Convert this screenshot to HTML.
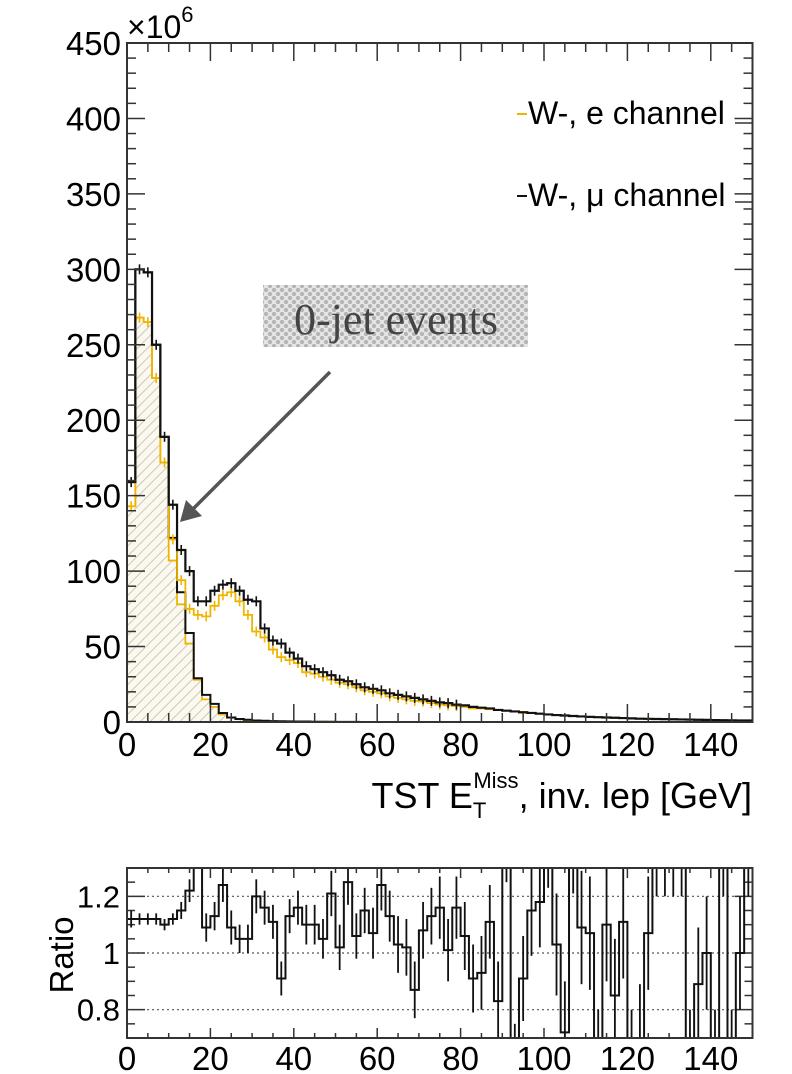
<!DOCTYPE html>
<html><head><meta charset="utf-8">
<style>
html,body{margin:0;padding:0;background:#fff;}
svg{display:block;font-family:"Liberation Sans",Arial,sans-serif;}
</style></head>
<body>
<svg id="c" width="792" height="1074" viewBox="0 0 792 1074">
<defs>
<pattern id="hatch" patternUnits="userSpaceOnUse" width="7" height="7" patternTransform="rotate(45)">
<rect width="7" height="7" fill="#fbf8ef"/>
<line x1="0" y1="0" x2="0" y2="7" stroke="#c4bca8" stroke-width="1.6"/>
</pattern>
<pattern id="dots" patternUnits="userSpaceOnUse" width="8" height="8">
<rect width="8" height="8" fill="#e4e4e4"/>
<circle cx="2" cy="2" r="2.1" fill="#b4b4b4"/>
<circle cx="6" cy="6" r="2.1" fill="#b4b4b4"/>
</pattern>
</defs>
<g id="main"></g>
<g id="ratio"></g>
</svg>
<script>
// ---- data (2 GeV bins, 0-150) ----
const binWidth = 2;
const muTotal = [159,300,298,250,189,144,114,100,80,80,87,91,92,87,81,80,62,54,52,46,42,37,
35,33,31,28,27,25,23,22,21,19,18,17,16,15,14,13,12.5,11.5,11,10,9.5,9,8,7.5,7,6.5,6,5.5,5,4.6,4.3,4,3.7,3.4,3.2,3,2.8,2.6,2.4,2.2,2.1,2,1.9,1.8,1.7,1.6,1.5,1.4,1.3,1.2,1.1,1.0,1.0];
const eTotal = [143,268,265,228,172,121,94,75,71,70,77,84,86,80,71,60,56,48,43,41,39,33,
32,30,28,26,25,23,21,20,19,17,16,15,14,13.5,12.5,11.5,11,10.5,10,9,9,8.5,8,7.5,7,6,6,5.5,5,4.5,4.2,3.9,3.6,3.4,3.1,2.9,2.7,2.5,2.3,2.1,2,1.9,1.8,1.7,1.6,1.5,1.4,1.3,1.2,1.1,1.0,0.9,0.9];
const mu0jet = [159,300,298,250,189,122,86,59,29,18,12,6,3,2,1.5,1,0.8,0.6,0.5,0.4,0.3,0.3,0.2,0.2,0.2,0.1,0.1,0.1];
const e0jet = [143,268,265,228,172,107,78,52,28,15,10,5,3,2,1.2,0.9,0.7,0.5,0.4,0.3,0.3,0.2,0.2,0.2,0.1,0.1,0.1];
const ratioVals = [1.12,1.12,1.12,1.12,1.10,1.12,1.15,1.22,1.35,1.09,1.13,1.24,1.09,1.05,1.05,1.20,1.16,1.11,0.91,1.13,1.16,1.10,1.10,1.05,1.21,1.02,1.25,1.06,1.15,1.07,1.24,1.13,1.03,1.02,0.87,1.08,1.13,1.16,1.01,1.16,1.06,0.91,0.93,1.11,0.83,1.40,0.60,0.91,1.15,1.18,1.40,1.03,0.72,1.40,1.09,1.07,0.60,1.10,0.85,1.11,0.60,0.69,1.07,1.40,1.40,1.40,1.40,0.60,0.89,1.00,0.60,1.40,0.60,1.00,1.40];
const ratioErr = [0.03,0.02,0.02,0.02,0.02,0.02,0.03,0.04,0.05,0.05,0.05,0.06,0.06,0.05,0.05,0.06,0.06,0.06,0.06,0.06,0.06,0.07,0.07,0.07,0.08,0.08,0.08,0.08,0.08,0.09,0.09,0.09,0.10,0.10,0.10,0.10,0.10,0.11,0.11,0.11,0.12,0.12,0.13,0.13,0.14,0.15,0.15,0.15,0.16,0.16,0.17,0.18,0.18,0.19,0.2,0.2,0.2,0.2,0.2,0.2,0.2,0.2,0.2,0.2,0.2,0.2,0.2,0.2,0.2,0.2,0.2,0.2,0.2,0.2,0.2];
const yTicksMain = [0,50,100,150,200,250,300,350,400,450];
const xTicks = [0,20,40,60,80,100,120,140];
const yTicksRatio = [0.8,1,1.2];
const yTickLabelsRatio = ["0.8","1","1.2"];

const NS="http://www.w3.org/2000/svg";
function mk(parent,tag,attrs){const e=document.createElementNS(NS,tag);for(const k in attrs)e.setAttribute(k,attrs[k]);parent.appendChild(e);return e;}
const L=127,R=752.5;
const X=v=>L+v*(R-L)/150;
const mT=43,mB=722;
const Ym=v=>mB-Math.max(0,Math.min(v,450))*(mB-mT)/450;
const rT=868,rB=1038;
const Yr=v=>rB-(Math.max(0.7,Math.min(v,1.3))-0.7)*(rB-rT)/0.6;

const gm=document.getElementById('main');
const gr=document.getElementById('ratio');

function stepPath(vals,Y,base){
  let d="";const n=Math.min(vals.length,75);
  for(let i=0;i<n;i++){const x0=X(i*binWidth),x1=X((i+1)*binWidth),y=Y(vals[i]);
    d+=(i===0?`M${x0},${base!==undefined?base:y}L${x0},${y}`:`L${x0},${y}`)+`L${x1},${y}`;}
  if(base!==undefined){d+=`L${X(n*binWidth)},${base}Z`;}
  return d;
}
let p=mk(gm,'path',{d:stepPath(e0jet,Ym,mB),fill:'url(#hatch)',stroke:'none'});


const series=[[e0jet,'#f0b400',1.8,'e-0jet-hist'],[mu0jet,'#111',2,'mu-0jet-hist'],[eTotal,'#f0b400',1.8,'e-total-hist'],[muTotal,'#111',2.2,'mu-total-hist']];
series.forEach(s=>{
  const e=mk(gm,'path',{d:stepPath(s[0],Ym),fill:'none',stroke:s[1],'stroke-width':s[2]});
  
  
});
[[eTotal,'#f0b400'],[muTotal,'#111']].forEach(s=>{
  for(let i=0;i<40;i++){const xc=X((i+0.5)*binWidth),y=Ym(s[0][i]);
    const e=mk(gm,'line',{x1:xc,x2:xc,y1:y-5,y2:y+5,stroke:s[1],'stroke-width':1.6});
    
    }
});
let f=mk(gm,'rect',{x:L,y:mT,width:R-L,height:mB-mT,fill:'none',stroke:'#333','stroke-width':2});


for(let v=0;v<=150;v+=5){const x=X(v),maj=v%20===0;const len=maj?18:9;
  mk(gm,'line',{x1:x,x2:x,y1:mB,y2:mB-len,stroke:'#333','stroke-width':1.5});
  mk(gm,'line',{x1:x,x2:x,y1:mT,y2:mT+len,stroke:'#333','stroke-width':1.5});
  const l2=maj?10:5;
  mk(gr,'line',{x1:x,x2:x,y1:rB,y2:rB-l2,stroke:'#333','stroke-width':1.5});
  mk(gr,'line',{x1:x,x2:x,y1:rT,y2:rT+l2,stroke:'#333','stroke-width':1.5});}
for(let v=0;v<=450;v+=10){const y=Ym(v),maj=v%50===0;const len=maj?18:9;
  mk(gm,'line',{x1:L,x2:L+len,y1:y,y2:y,stroke:'#333','stroke-width':1.5});
  mk(gm,'line',{x1:R,x2:R-len,y1:y,y2:y,stroke:'#333','stroke-width':1.5});}
yTicksMain.forEach(v=>{const t=mk(gm,'text',{x:121,y:Ym(v)+12,'text-anchor':'end','font-size':33,fill:'#000'});t.textContent=v;
  
  });
xTicks.forEach(v=>{const t=mk(gm,'text',{x:X(v),y:756,'text-anchor':'middle','font-size':33,fill:'#000'});t.textContent=v;
  
  
  const t2=mk(gr,'text',{x:X(v),y:1070,'text-anchor':'middle','font-size':33,fill:'#000'});t2.textContent=v;
  
  });
yTicksRatio.forEach((v,i)=>{const y=Yr(v);
  mk(gr,'line',{x1:L,x2:R,y1:y,y2:y,stroke:'#555','stroke-width':1.2,'stroke-dasharray':'2,3'});
  const t=mk(gr,'text',{x:120,y:y+11,'text-anchor':'end','font-size':31,fill:'#000'});t.textContent=yTickLabelsRatio[i];
  
  });
for(let k=0;k<=12;k++){const v=0.7+k*0.05,y=Yr(v),maj=(k===2||k===6||k===10);const len=maj?18:8;
  mk(gr,'line',{x1:L,x2:L+len,y1:y,y2:y,stroke:'#333','stroke-width':1.5});
  mk(gr,'line',{x1:R,x2:R-len,y1:y,y2:y,stroke:'#333','stroke-width':1.5});}
let rp=mk(gr,'path',{d:stepPath(ratioVals,Yr),fill:'none',stroke:'#111','stroke-width':2});


ratioVals.forEach((v,i)=>{const xc=X((i+0.5)*binWidth);
  const e=mk(gr,'line',{x1:xc,x2:xc,y1:Yr(v+ratioErr[i]),y2:Yr(v-ratioErr[i]),stroke:'#111','stroke-width':1.8});
  
  });
let rf=mk(gr,'rect',{x:L,y:rT,width:R-L,height:rB-rT,fill:'none',stroke:'#333','stroke-width':2});


</script>
<svg style="position:absolute;left:0;top:0" width="792" height="1074">
<text x="127" y="38" font-size="32" font-family="Liberation Sans, sans-serif">×10<tspan dy="-16" font-size="22">6</tspan></text>
<g>
<line x1="517" x2="527" y1="114" y2="114" stroke="#f0b400" stroke-width="2"/>
<text x="528" y="124" font-size="32" font-family="Liberation Sans, sans-serif">W-, e channel</text>
<line x1="735" x2="752" y1="123" y2="123" stroke="#333" stroke-width="1.5"/>
<line x1="517" x2="527" y1="196" y2="196" stroke="#111" stroke-width="2"/>
<text x="528" y="206" font-size="32" font-family="Liberation Sans, sans-serif">W-, μ channel</text>
<line x1="735" x2="752" y1="202" y2="202" stroke="#333" stroke-width="1.5"/>
</g>
<g>
<rect x="263" y="285" width="265" height="62" fill="url(#dots)"/>
<text x="396" y="334" text-anchor="middle" font-size="44" fill="#444" font-family="Liberation Serif, serif">0-jet events</text>
<line x1="330" y1="372" x2="190" y2="512" stroke="#555" stroke-width="3.5"/>
<polygon points="180,522 186,500 202,516" fill="#555"/>
</g>
<text x="752" y="808" text-anchor="end" font-size="36" font-family="Liberation Sans, sans-serif">TST E<tspan dy="10" font-size="22">T</tspan><tspan dx="-13" dy="-30" font-size="22">Miss</tspan><tspan dy="20">, inv. lep [GeV]</tspan></text>
<text transform="translate(73,955) rotate(-90)" text-anchor="middle" font-size="33" font-family="Liberation Sans, sans-serif">Ratio</text>
</svg>
</body></html>
